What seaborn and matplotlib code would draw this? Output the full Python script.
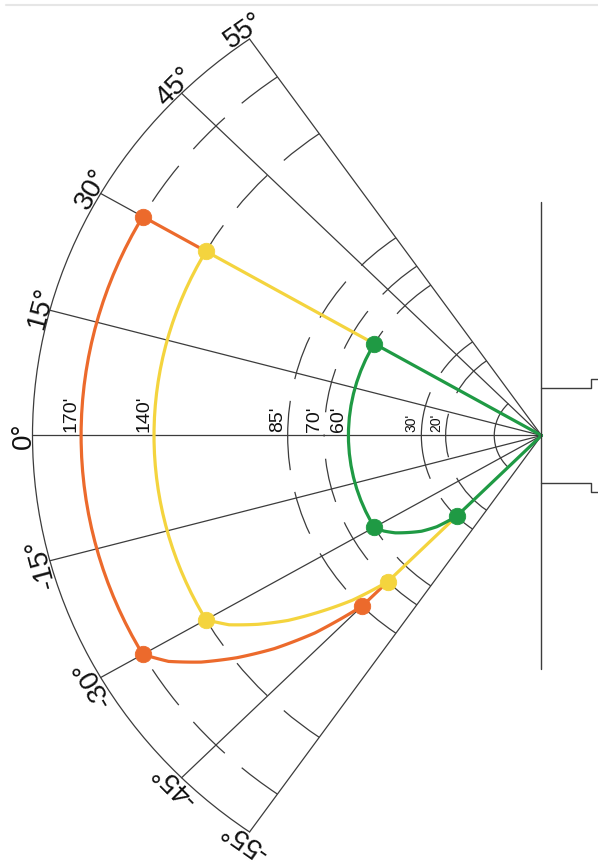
import numpy as np
import matplotlib
matplotlib.use("Agg")
import matplotlib.pyplot as plt
from matplotlib.lines import Line2D
import seaborn as sns

# ---- data (angles in degrees, distances in feet) ----
ORIGIN_FT = -19.44          # beams converge behind the sensor face
OUTER_FT = 190
FACE_FT = 0
grid_angles = [-55, -45, -30, -15, 0, 15, 30, 45, 55]
angle_labels = ["-55°", "-45°", "-30°", "-15°", "0°", "15°", "30°", "45°", "55°"]
range_arcs = [20, 30, 60, 70, 85, 140, 170]
range_labels = ["20'", "30'", "60'", "70'", "85'", "140'", "170'"]

zone_theta = [30, 30, -30, -32.5, -35, -37.5, -40, -42.5, -45, -45]
orange_r = [140, 170, 170, 162.5, 151.5, 138.5, 124, 107, 85, 70]
yellow_r = [60, 140, 140, 133, 123, 112, 99, 86, 70, 30]
green_r = [ORIGIN_FT, 60, 60, 57.5, 54, 49.5, 45, 39, 30, ORIGIN_FT]
zone_colors = ["#EC6A2C", "#F4D43E", "#1F9A44"]
dot_idx = [1, 2, 8]

# mounting plate / sensor housing outline (feet from the beam origin)
plate_half = 101
housing_half = 20.55
housing_depth = 20.2
step_half = 24.4

# ---- style ----
sns.set_theme(style="white")
plt.rcParams["font.family"] = ["Liberation Sans Narrow", "Liberation Sans", "DejaVu Sans"]
plt.rcParams["lines.scale_dashes"] = False
GRID = "#3c3c3c"

W_PX, H_PX = 598, 867
fig = plt.figure(figsize=(W_PX / 100, H_PX / 100), dpi=100)

# place the wedge so the origin and outer radius land where they should
ox, oy = 541.5, 435.5
rx, ry = 509, 484
s55 = np.sin(np.deg2rad(55))
frac_r = 0.5 / (2 * 0.5 * s55)
frac_ox = (0.5 + (2 * 0.5 * s55 - 0.5) / 2) / (2 * 0.5 * s55)
aw, ah = rx / frac_r, ry / frac_r
left = ox - frac_ox * aw
bottom = (H_PX - oy) - ah / 2
rect = [left / W_PX, bottom / H_PX, aw / W_PX, ah / H_PX]

ax = fig.add_axes(rect, projection="polar")
ax.set_theta_zero_location("W")
ax.set_theta_direction(-1)
ax.set_thetamin(-55)
ax.set_thetamax(55)
ax.set_rlim(ORIGIN_FT, OUTER_FT)
ax.set_aspect("auto")
ax.axis("off")


def arc(line, steps=90):
    line.get_path()._interpolation_steps = steps
    return line


# radial lines and outer arc
for a in grid_angles:
    ax.plot([np.deg2rad(a)] * 2, [ORIGIN_FT, OUTER_FT], color=GRID, lw=0.9, clip_on=False)
arc(ax.plot(np.deg2rad([-55, 55]), [OUTER_FT] * 2, color=GRID, lw=0.9, clip_on=False)[0])
arc(ax.plot(np.deg2rad([-45, 45]), [FACE_FT] * 2, color=GRID, lw=0.9, clip_on=False)[0])

# dashed range arcs, dashes start at the +/-55 edges
for r in range_arcs:
    for a in (55, -55):
        arc(ax.plot(np.deg2rad([a, 0]), [r, r], color=GRID, lw=0.9,
                    ls=(0, (32, 16)), clip_on=False)[0])

# coverage zones
for rs, c in zip([orange_r, yellow_r, green_r], zone_colors):
    sns.lineplot(x=np.deg2rad(zone_theta), y=rs, sort=False, estimator=None,
                 color=c, lw=2.3, ax=ax, zorder=4, clip_on=False)
    arc(ax.lines[-1], 30)
    sns.scatterplot(x=np.deg2rad([zone_theta[i] for i in dot_idx]),
                    y=[rs[i] for i in dot_idx], color=c, s=140,
                    edgecolor=c, linewidth=0.6, ax=ax, zorder=5, clip_on=False)

# angle labels
for a, lab in zip(grid_angles, angle_labels):
    d = 1.5
    ax.annotate(lab, xy=(np.deg2rad(a), OUTER_FT),
                xytext=(-np.cos(np.deg2rad(a)) * d, np.sin(np.deg2rad(a)) * d),
                textcoords="offset points", rotation=90 - a, rotation_mode="anchor",
                ha="center", va="baseline", fontsize=20, color="#111111",
                annotation_clip=False)

# range labels
for r, lab in zip(range_arcs, range_labels):
    fs = 10 if r < 50 else 14
    ax.annotate(lab, xy=(0, r), xytext=(-4, 2.5), textcoords="offset points",
                rotation=90, rotation_mode="anchor", ha="left", va="baseline",
                fontsize=fs, color="#111111", annotation_clip=False)

# overlay for the mounting plate
R = OUTER_FT - ORIGIN_FT
pad = R * (s55 - 0.5)
ax2 = fig.add_axes(rect)
ax2.set_xlim(-R - pad, pad)
ax2.set_ylim(-R * s55, R * s55)
ax2.axis("off")
ax2.plot([0, 0], [-plate_half, plate_half], color=GRID, lw=1.0)
for sgn in (1, -1):
    ax2.plot([0, housing_depth, housing_depth, 40],
             [sgn * housing_half, sgn * housing_half, sgn * step_half, sgn * step_half],
             color=GRID, lw=1.0)

# faint page edge at the top
fig.add_artist(Line2D([0.01, 1.0], [1 - 5 / H_PX] * 2, color="#e6e6e6", lw=1.5))

fig.savefig("out.png", dpi=100)
